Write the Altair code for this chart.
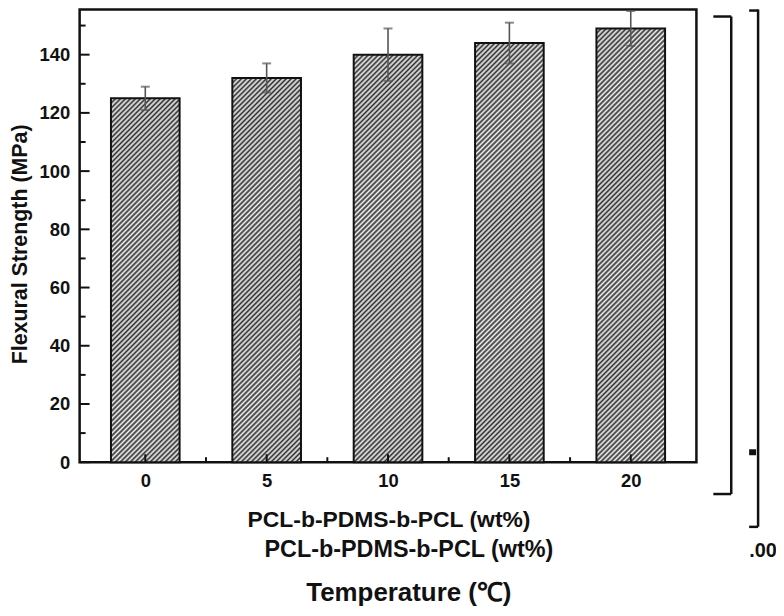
import math
import altair as alt
import pandas as pd

# ---- data ----
loadings = [0, 5, 10, 15, 20]          # PCL-b-PDMS-b-PCL (wt%)
strength = [125, 132, 140, 144, 149]   # Flexural strength (MPa)
errors = [4, 5, 9, 7, 6]               # error bar half-length
y_major = [0, 20, 40, 60, 80, 100, 120, 140]
y_minor = [10, 30, 50, 70, 90, 110, 130, 150]
x_minor = [2.5, 7.5, 12.5, 17.5]

W, H = 620, 455
YMAX = 155.5
XDOM = [-2.5, 22.5]
BAR_W = 69
FONT = "Liberation Sans"
INK = "#111111"

df = pd.DataFrame({"x": loadings, "y": strength, "e": errors})
df["lo"] = df["y"] - df["e"]
df["hi"] = df["y"] + df["e"]

xs = alt.Scale(domain=XDOM, nice=False, zero=False)
ys = alt.Scale(domain=[0, YMAX], nice=False, zero=False)
xaxis = alt.Axis(values=loadings, ticks=False, domain=False, grid=False, title=None,
                 labelFont=FONT, labelFontSize=18.5, labelFontWeight="bold",
                 labelColor=INK, labelPadding=9)
yaxis = alt.Axis(values=y_major, ticks=False, domain=False, grid=False, title=None,
                 labelFont=FONT, labelFontSize=18.5, labelFontWeight="bold",
                 labelColor=INK, labelPadding=10)


def hatch(h, w=BAR_W, period=5 / math.sqrt(2), dark="#2e2e2e", light="#f2f2f2"):
    """Diagonal '////' hatch as a linear gradient in bounding-box units."""
    n = (w + h) / (math.sqrt(2) * period)
    stops = []
    k = 0
    while k < n:
        a = round(k / n, 5)
        b = round(min((k + 0.5) / n, 1), 5)
        stops += [{"offset": a, "color": dark}, {"offset": b, "color": light}]
        k += 1
    d = w * w + h * h
    return {"gradient": "linear", "x1": 0, "y1": 0,
            "x2": w * (w + h) / d, "y2": h * (w + h) / d, "stops": stops}


base = alt.Chart(df)
layers = []
for v, s in zip(loadings, strength):
    layers.append(
        base.transform_filter(alt.datum.x == v)
        .mark_bar(size=BAR_W, fill=hatch(s * H / YMAX), stroke=INK, strokeWidth=2)
        .encode(x=alt.X("x:Q", scale=xs, axis=xaxis),
                y=alt.Y("y:Q", scale=ys, axis=yaxis))
    )

# error bars
layers.append(base.mark_rule(color="#555555", strokeWidth=1.6).encode(
    x=alt.X("x:Q", scale=xs, axis=xaxis),
    y=alt.Y("lo:Q", scale=ys, axis=yaxis), y2="hi:Q"))
for col in ["lo", "hi"]:
    layers.append(base.mark_tick(orient="horizontal", size=9, thickness=2,
                                 color="#555555").encode(
        x=alt.X("x:Q", scale=xs, axis=xaxis),
        y=alt.Y(f"{col}:Q", scale=ys, axis=yaxis)))

# inward ticks
ymaj = pd.DataFrame({"v": y_major})
ymin = pd.DataFrame({"v": y_minor})
xmaj = pd.DataFrame({"v": loadings})
xmin = pd.DataFrame({"v": x_minor})
layers.append(alt.Chart(ymaj).mark_rule(color=INK, strokeWidth=2).encode(
    y=alt.Y("v:Q", scale=ys, axis=yaxis), x=alt.value(0), x2=alt.value(10)))
layers.append(alt.Chart(ymin).mark_rule(color=INK, strokeWidth=2).encode(
    y=alt.Y("v:Q", scale=ys, axis=yaxis), x=alt.value(0), x2=alt.value(6)))
layers.append(alt.Chart(xmaj).mark_rule(color=INK, strokeWidth=2).encode(
    x=alt.X("v:Q", scale=xs, axis=xaxis), y=alt.value(H), y2=alt.value(H - 8)))
layers.append(alt.Chart(xmin).mark_rule(color=INK, strokeWidth=2).encode(
    x=alt.X("v:Q", scale=xs, axis=xaxis), y=alt.value(H), y2=alt.value(H - 5)))

one = pd.DataFrame({"a": [0]})


def txt(s, x, y, size, angle=0):
    kw = dict(font=FONT, fontSize=size, fontWeight="bold", color=INK,
              align="center", baseline="middle")
    if angle:
        kw["angle"] = angle
    return alt.Chart(one).mark_text(**kw).encode(
        x=alt.value(x), y=alt.value(y), text=alt.value(s))


layers.append(txt("Flexural Strength (MPa)", -59, 236, 21.5, angle=270))
layers.append(txt("PCL-b-PDMS-b-PCL (wt%)", 311, 513, 23))
layers.append(txt("PCL-b-PDMS-b-PCL (wt%)", 331, 543, 23.5))
layers.append(txt("Temperature (\u2103)", 331, 587, 26))


def seg(x1, y1, x2, y2, w=2.5):
    return alt.Chart(one).mark_rule(color=INK, strokeWidth=w).encode(
        x=alt.value(x1), y=alt.value(y1), x2=alt.value(x2), y2=alt.value(y2))


# bracket artefacts on the right side of the figure
layers += [
    seg(655, 7, 655, 487), seg(637, 7, 655, 7), seg(637, 487, 655, 487),
    seg(682, 0, 682, 520), seg(673, 1, 682, 1), seg(673, 520, 682, 520),
    seg(673, 445, 680, 445, w=6),
]
layers.append(alt.Chart(one).mark_text(font=FONT, fontSize=20, fontWeight="bold",
                                       color=INK, align="left", baseline="middle")
              .encode(x=alt.value(673), y=alt.value(544), text=alt.value(".00")))

chart = alt.layer(*layers).properties(
    width=W, height=H,
    padding={"left": 72, "top": 0, "right": 80, "bottom": 145},
    autosize=alt.AutoSizeParams(type="none"),
).configure_view(stroke=INK, strokeWidth=2.5)

chart.save("out.html", embed_options={"renderer": "svg", "actions": False})
